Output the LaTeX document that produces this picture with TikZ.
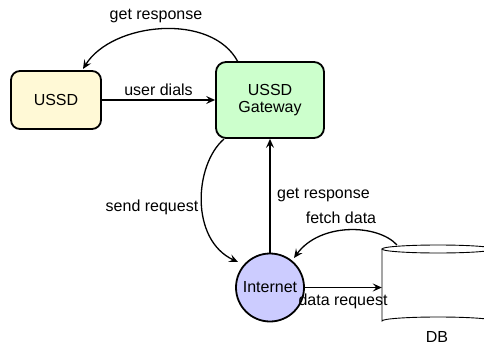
\documentclass[tikz,border=0pt]{standalone}
\usepackage{fontspec}
\setmainfont{Liberation Sans}
\usetikzlibrary{arrows.meta}
\definecolor{ussdfill}{HTML}{FFF9D6}
\definecolor{gwfill}{HTML}{CCFFCC}
\definecolor{netfill}{HTML}{CCCCFF}
\begin{document}
\begin{tikzpicture}[x=1pt,y=-1pt,
  font=\fontsize{16}{17}\selectfont,
  box/.style={draw, line width=1.8pt, rounded corners=9pt, align=center, inner sep=0pt},
  conn/.style={line width=1.3pt, -{Stealth[length=9pt,width=8pt,inset=3.5pt]}},
  lbl/.style={inner sep=1pt}]
\useasboundingbox (0,0) rectangle (484,345);
\begin{scope}
\clip (0,0) rectangle (484,345);
\node[box, fill=ussdfill, minimum width=90pt, minimum height=58pt] (ussd) at (56,100) {USSD};
\node[box, fill=gwfill, minimum width=108pt, minimum height=76pt, rounded corners=10pt] (gw) at (270,100) {USSD\\Gateway};
\node[draw, circle, line width=1.8pt, fill=netfill, minimum size=68pt, inner sep=0pt] (inet) at (270,287.5) {Internet};
% DB cylinder
\node[minimum width=112pt, minimum height=80pt, inner sep=0pt] (db) at (438,287.5) {};
\draw[line width=0.9pt] (382,249) -- (382,321) arc[start angle=180, end angle=360, x radius=56, y radius=4];
\draw[line width=0.9pt] (438,249) ellipse[x radius=56, y radius=4];
\node[lbl] (dblabel) at (437,337) {DB};
% connectors
\draw[conn] (ussd.east) -- (gw.west) node[lbl, midway, above=3pt] (l1) {user dials};
\coordinate (gwtop) at (238,62);
\coordinate (ussdtop) at (83,69);
\draw[conn] (gwtop) .. controls (212,12) and (112,22) .. (ussdtop);
\node[lbl] (l2) at (156,16) {get response};
\coordinate (gwbl) at (224,139);
\coordinate (inetul) at (238,262);
\draw[conn] (gwbl) .. controls (194,165) and (190,240) .. (inetul);
\node[lbl] (l3) at (152,207) {send request};
\draw[conn] (inet.north) -- (gw.south);
\node[lbl, anchor=west] (l4) at (276,195) {get response};
\coordinate (dbtop) at (397,245);
\coordinate (inetur) at (294,258);
\draw[conn] (dbtop) .. controls (378,224) and (320,222) .. (inetur);
\node[lbl] (l5) at (341,218) {fetch data};
\draw[conn] (inet.east) -- (db.west);
\node[lbl] (l6) at (343,301) {data request};
\end{scope}
\end{tikzpicture}
\end{document}
